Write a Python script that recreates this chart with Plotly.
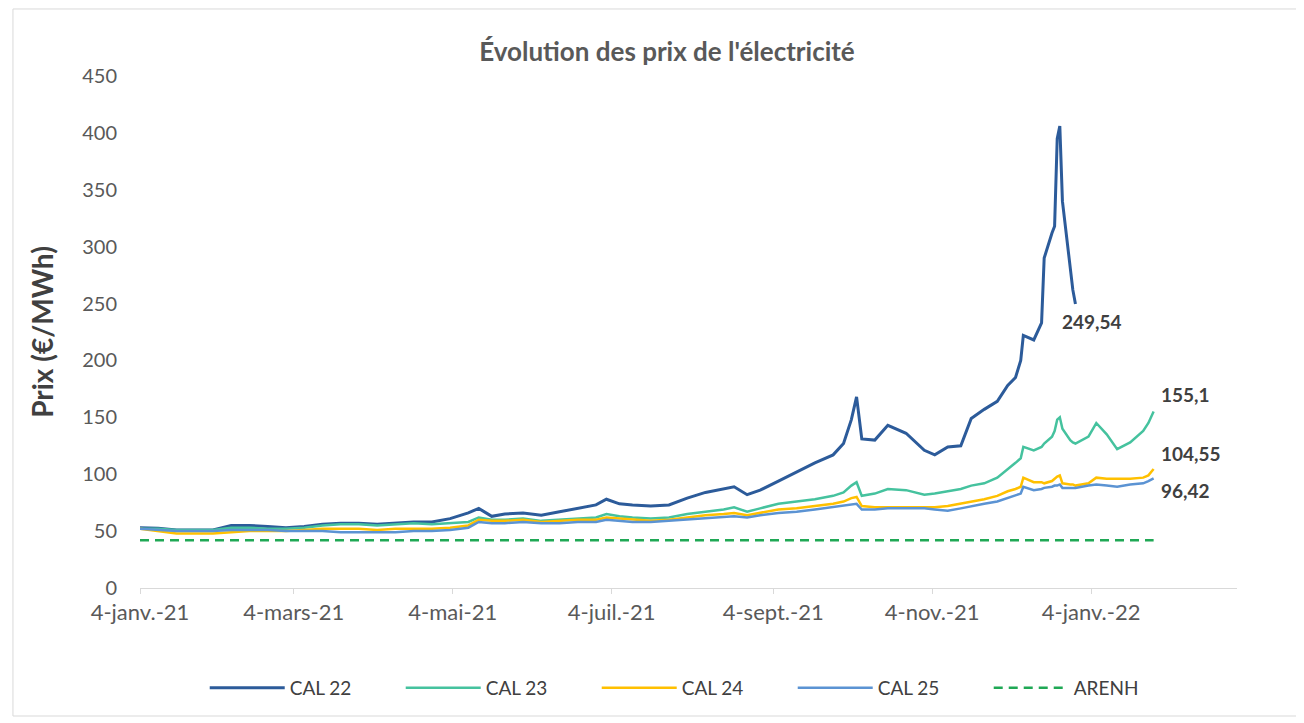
import plotly.graph_objects as go

# ---------------- data ----------------
dates = [
    "2021-01-04", "2021-01-11", "2021-01-18", "2021-01-25", "2021-02-01", "2021-02-08",
    "2021-02-15", "2021-02-22", "2021-03-01", "2021-03-08", "2021-03-15", "2021-03-22",
    "2021-03-29", "2021-04-05", "2021-04-12", "2021-04-19", "2021-04-26", "2021-05-03",
    "2021-05-10", "2021-05-14", "2021-05-19", "2021-05-24", "2021-05-31", "2021-06-07",
    "2021-06-14", "2021-06-21", "2021-06-28", "2021-07-02", "2021-07-07", "2021-07-12",
    "2021-07-19", "2021-07-26", "2021-08-02", "2021-08-09", "2021-08-16", "2021-08-20",
    "2021-08-25", "2021-08-30", "2021-09-06", "2021-09-13", "2021-09-20", "2021-09-27",
    "2021-10-01", "2021-10-04", "2021-10-06", "2021-10-08", "2021-10-13", "2021-10-18",
    "2021-10-25", "2021-11-01", "2021-11-05", "2021-11-10", "2021-11-15", "2021-11-19",
    "2021-11-24", "2021-11-29", "2021-12-03", "2021-12-06", "2021-12-08", "2021-12-09",
    "2021-12-13", "2021-12-16", "2021-12-17", "2021-12-20", "2021-12-21", "2021-12-22",
    "2021-12-23", "2021-12-24", "2021-12-27", "2021-12-28", "2021-12-29", "2022-01-03",
    "2022-01-06", "2022-01-10", "2022-01-14", "2022-01-19", "2022-01-24", "2022-01-26",
    "2022-01-28",
]

cal22 = [
    53, 52.5, 51, 51, 51, 55, 55, 54, 53, 54, 56, 57,
    57, 56, 57, 58, 58, 61, 66, 70, 63, 65, 66, 64,
    67, 70, 73, 78, 74, 73, 72, 73, 79, 84, 87, 89,
    82, 86, 94, 102, 110, 117, 127, 148, 168, 131, 130, 143,
    136, 121, 117, 124, 125, 149, 157, 164, 178, 185, 200, 222,
    218, 233, 290, 312, 318, 395, 406, 340, 285, 262, 249.54, None,
    None, None, None, None, None, None, None,
]

cal23 = [
    52, 52, 51, 51, 51, 53, 53, 52, 52, 53, 55, 56,
    56, 55, 56, 57, 56, 57, 58, 62, 60, 60, 61, 59,
    60, 61, 62, 65, 63, 62, 61, 62, 65, 67, 69, 71,
    67, 70, 74, 76, 78, 81, 84, 90, 93, 81, 83, 87,
    86, 82, 83, 85, 87, 90, 92, 97, 104, 110, 114, 124,
    121, 124, 127, 133, 138, 148, 150, 140, 130, 128, 127, 133,
    145, 135, 122, 128, 138, 145, 155.1,
]

cal24 = [
    52, 50, 48, 48, 48, 49, 50, 50, 50, 51, 52, 52,
    52, 51, 52, 52, 52, 53, 55, 60, 59, 59, 60, 58,
    59, 60, 60, 62, 61, 60, 59, 60, 62, 64, 65, 66,
    64, 66, 69, 70, 72, 74, 76, 79, 80, 72, 71, 71,
    71, 71, 71, 72, 74, 76, 78, 81, 85, 87, 89, 97,
    93, 93, 92, 94, 96, 98, 99, 92, 91, 91, 90, 92,
    97, 96, 96, 96, 97, 99, 104.55,
]

cal25 = [
    52, 51, 50, 50, 50, 51, 51, 51, 50, 50, 50, 49,
    49, 49, 49, 50, 50, 51, 53, 58, 57, 57, 58, 57,
    57, 58, 58, 60, 59, 58, 58, 59, 60, 61, 62, 63,
    62, 64, 66, 67, 69, 71, 72, 73, 74, 69, 69, 70,
    70, 70, 69, 68, 70, 72, 74, 76, 79, 81, 83, 89,
    86, 87, 88, 89, 90, 90, 91, 88, 88, 88, 88, 90,
    91, 90, 89, 91, 92, 94, 96.42,
]

arenh_dates = ["2021-01-04", "2022-01-28"]
arenh = [42, 42]

tick_dates = ["2021-01-04", "2021-03-04", "2021-05-04", "2021-07-04",
              "2021-09-04", "2021-11-04", "2022-01-04"]
tick_labels = ["4-janv.-21", "4-mars-21", "4-mai-21", "4-juil.-21",
               "4-sept.-21", "4-nov.-21", "4-janv.-22"]

end_labels = [("249,54", "2021-12-29", 249.54, -15, -17),
              ("155,1", "2022-01-28", 155.1, 5, 17),
              ("104,55", "2022-01-28", 104.55, 5, 16),
              ("96,42", "2022-01-28", 96.42, 5, -12)]

# ---------------- figure ----------------
FONT = "Lato, 'Open Sans', sans-serif"
fig = go.Figure()

fig.add_trace(go.Scatter(x=dates, y=cal22, name="CAL 22", mode="lines",
                         line=dict(color="#2C5B9A", width=3)))
fig.add_trace(go.Scatter(x=dates, y=cal23, name="CAL 23", mode="lines",
                         line=dict(color="#45C29E", width=2.5)))
fig.add_trace(go.Scatter(x=dates, y=cal24, name="CAL 24", mode="lines",
                         line=dict(color="#FFC000", width=2.5)))
fig.add_trace(go.Scatter(x=dates, y=cal25, name="CAL 25", mode="lines",
                         line=dict(color="#5B93D3", width=2.5)))
fig.add_trace(go.Scatter(x=arenh_dates, y=arenh, name="ARENH", mode="lines",
                         line=dict(color="#1FA855", width=2.5, dash="9px,6px")))

for txt, xd, yv, xs, ys in end_labels:
    fig.add_annotation(x=xd, y=yv, text=f"<b>{txt}</b>", showarrow=False,
                       xanchor="left", yanchor="middle", xshift=xs, yshift=ys,
                       font=dict(family=FONT, size=19, color="#404040"))

fig.add_shape(type="rect", xref="paper", yref="paper",
              x0=-0.1158, x1=1.0547, y0=-0.25, y1=1.1309,
              line=dict(color="#D9D9D9", width=1), fillcolor="rgba(0,0,0,0)",
              layer="below")

W, H = 1296, 715
fig.update_layout(
    width=W, height=H,
    margin=dict(l=132, r=67, t=68, b=135, autoexpand=False),
    paper_bgcolor="white", plot_bgcolor="white",
    font=dict(family=FONT, color="#595959"),
    title=dict(text="<b>Évolution des prix de l'électricité</b>",
               x=0.4804, xref="paper", xanchor="center",
               y=1 - 44 / H, yref="container", yanchor="middle",
               font=dict(family=FONT, size=26, color="#595959")),
    showlegend=True,
    legend=dict(orientation="h", x=0.059, xanchor="left", y=-0.195, yanchor="middle",
                itemwidth=75, entrywidth=106, entrywidthmode="pixels",
                font=dict(family=FONT, size=19, color="#404040"),
                bgcolor="rgba(0,0,0,0)"),
    xaxis=dict(type="date", range=["2021-01-04", "2022-03-01"],
               tickvals=tick_dates, ticktext=tick_labels,
               showgrid=False, zeroline=False,
               showline=True, linecolor="#D9D9D9", linewidth=1,
               ticks="outside", ticklen=5, tickcolor="#D9D9D9",
               tickfont=dict(family=FONT, size=22, color="#595959")),
    yaxis=dict(range=[0, 450], dtick=50, tick0=0,
               showgrid=False, zeroline=False, showline=False, ticks="",
               ticklabelstandoff=22,
               tickfont=dict(family=FONT, size=20, color="#595959"),
               title=dict(text="<b>Prix (€/MWh)</b>", standoff=20,
                          font=dict(family=FONT, size=28, color="#404040"))),
)

fig.write_html("out.html")
